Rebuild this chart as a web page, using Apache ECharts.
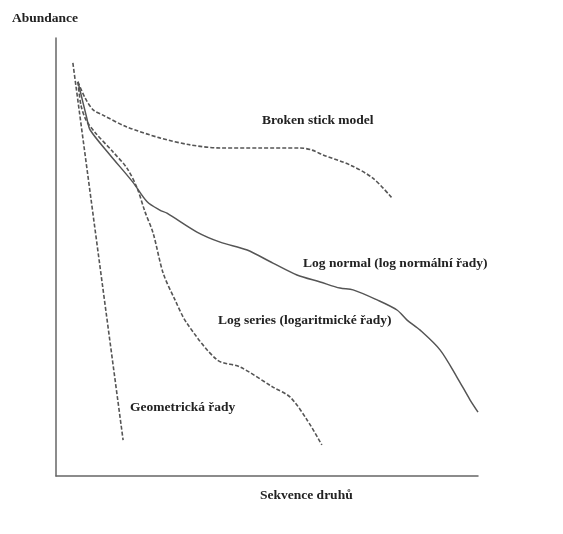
<!DOCTYPE html>
<html>
<head>
<meta charset="utf-8">
<script src="https://cdn.jsdelivr.net/npm/echarts@6/dist/echarts.min.js"></script>
<style>
  html, body { margin: 0; padding: 0; background: #fff; }
  #chart { width: 563px; height: 534px; }
</style>
</head>
<body>
<div id="chart"></div>
<script>
// species rank (0-100) / abundance (0-100)
const geoX = [4.0, 15.9];
const geoY = [94.3, 8.2];

const brokenX = [5.2, 6.9, 8.8, 11.1, 16.8, 24.6, 31.8, 38.9, 48.3, 57.8, 60.7, 63.3, 69.7, 75.1, 79.6];
const brokenY = [90.0, 86.3, 83.6, 82.4, 79.7, 77.2, 75.6, 74.9, 74.9, 74.9, 74.4, 73.3, 71.0, 68.0, 63.5];

const lognormX = [5.2, 7.3, 8.1, 12.8, 18.2, 21.6, 24.6, 26.3, 33.4, 38.9, 45.3, 51.4, 57.1, 62.6, 67.3, 70.4, 76.1, 80.8, 83.2, 86.3, 91.0, 95.0, 98.1, 100];
const lognormY = [90.0, 81.7, 79.0, 73.3, 67.1, 62.6, 60.7, 60.0, 55.7, 53.4, 51.6, 48.6, 45.9, 44.3, 42.9, 42.5, 40.2, 37.9, 35.6, 33.3, 28.8, 22.6, 17.4, 14.6];

const logserX = [5.2, 5.9, 7.1, 9.2, 13.5, 16.8, 19.2, 21.1, 23.0, 25.4, 28.2, 31.0, 38.2, 43.6, 51.4, 55.5, 59.5, 63.0];
const logserY = [90.0, 84.7, 81.3, 78.5, 74.0, 70.3, 65.8, 60.3, 55.5, 46.3, 40.2, 34.9, 26.5, 24.9, 20.3, 18.0, 12.8, 7.1];

const labels = {
  yName: 'Abundance',
  xName: 'Sekvence druhů',
  broken: 'Broken stick model',
  lognorm: 'Log normal (log normální řady)',
  logser: 'Log series (logaritmické řady)',
  geo: 'Geometrická řady'
};

function pairs(xs, ys) {
  return xs.map((x, i) => [x, ys[i]]);
}

const lineColor = '#555';
const dashed = { color: lineColor, width: 1.6, type: [4, 2] };
const solid = { color: lineColor, width: 1.5 };
const font = { fontFamily: 'Liberation Serif', fontWeight: 'bold', fontSize: 13.5, fill: '#222' };

function txt(x, y, s) {
  return { type: 'text', left: x, top: y, style: Object.assign({ text: s }, font) };
}

const chart = echarts.init(document.getElementById('chart'));
chart.setOption({
  animation: false,
  grid: { left: 56, right: 85, top: 38, bottom: 58 },
  xAxis: {
    type: 'value', min: 0, max: 100,
    axisLine: { lineStyle: { color: '#666', width: 1.5 } },
    axisTick: { show: false }, axisLabel: { show: false }, splitLine: { show: false }
  },
  yAxis: {
    type: 'value', min: 0, max: 100,
    axisLine: { show: true, lineStyle: { color: '#666', width: 1.5 } },
    axisTick: { show: false }, axisLabel: { show: false }, splitLine: { show: false }
  },
  series: [
    { type: 'line', data: pairs(geoX, geoY), symbol: 'none', lineStyle: dashed },
    { type: 'line', data: pairs(brokenX, brokenY), symbol: 'none', smooth: 0.3, lineStyle: dashed },
    { type: 'line', data: pairs(lognormX, lognormY), symbol: 'none', smooth: 0.3, lineStyle: solid },
    { type: 'line', data: pairs(logserX, logserY), symbol: 'none', smooth: 0.3, lineStyle: dashed }
  ],
  graphic: [
    txt(12, 12, labels.yName),
    txt(262, 114, labels.broken),
    txt(303, 257, labels.lognorm),
    txt(218, 314, labels.logser),
    txt(130, 401, labels.geo),
    txt(260, 489, labels.xName)
  ]
});
</script>
</body>
</html>
